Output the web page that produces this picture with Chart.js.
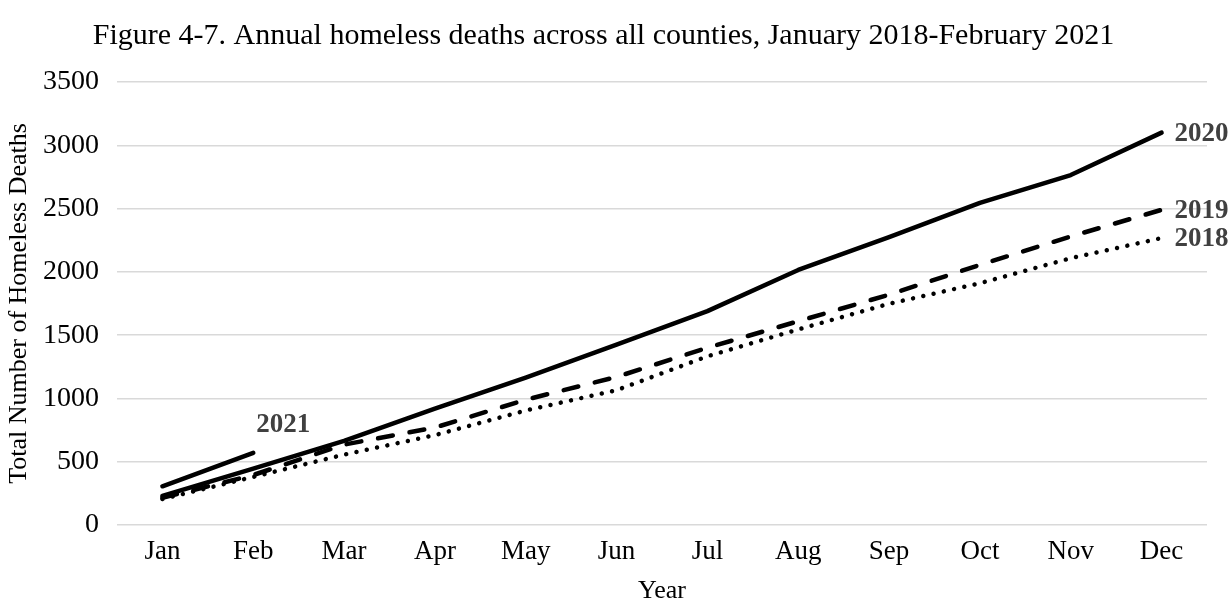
<!DOCTYPE html>
<html>
<head>
<meta charset="utf-8">
<script src="https://cdn.jsdelivr.net/npm/chart.js"></script>
<style>
  html, body { margin: 0; padding: 0; background: #fff; }
  #wrap { width: 1231px; height: 607px; }
</style>
</head>
<body>
<div id="wrap"><canvas id="deathsChart" width="1231" height="607"></canvas></div>
<script>
// Cumulative homeless deaths by month
const months = ['Jan', 'Feb', 'Mar', 'Apr', 'May', 'Jun', 'Jul', 'Aug', 'Sep', 'Oct', 'Nov', 'Dec'];
const deaths2018 = [205, 380, 556, 710, 905, 1065, 1333, 1545, 1748, 1910, 2108, 2267];
const deaths2019 = [215, 395, 635, 770, 990, 1170, 1400, 1610, 1820, 2055, 2280, 2490];
const deaths2020 = [230, 445, 665, 920, 1165, 1425, 1690, 2015, 2275, 2545, 2765, 3100];
const deaths2021 = [306, 570, null, null, null, null, null, null, null, null, null, null];
const yTicks = [0, 500, 1000, 1500, 2000, 2500, 3000, 3500];

const SERIF = "'Liberation Serif', 'Times New Roman', serif";

// Year labels drawn next to the last point of each line
const endLabels = {
    id: 'endLabels',
    afterDatasetsDraw(chart) {
        const ctx = chart.ctx;
        ctx.save();
        ctx.font = 'bold 27px ' + SERIF;
        ctx.fillStyle = '#404040';
        ctx.textBaseline = 'middle';
        chart.data.datasets.forEach((ds, i) => {
            const meta = chart.getDatasetMeta(i);
            let last = -1;
            ds.data.forEach((v, j) => { if (v !== null) last = j; });
            if (last < 0) return;
            const pt = meta.data[last];
            const off = ds.labelOffset || { x: 13, y: 1, align: 'left' };
            ctx.textAlign = off.align;
            ctx.fillText(ds.label, pt.x + off.x, pt.y + off.y);
        });
        ctx.restore();
    }
};

const ctx = document.getElementById('deathsChart').getContext('2d');
new Chart(ctx, {
    type: 'line',
    data: {
        labels: months,
        datasets: [
            {
                label: '2018',
                data: deaths2018,
                borderColor: '#000',
                borderWidth: 4.5,
                borderDash: [0.01, 10.5],
                borderCapStyle: 'round',
                pointRadius: 0,
                tension: 0
            },
            {
                label: '2019',
                data: deaths2019,
                borderColor: '#000',
                borderWidth: 4.5,
                borderDash: [15, 17],
                borderCapStyle: 'round',
                pointRadius: 0,
                tension: 0
            },
            {
                label: '2020',
                data: deaths2020,
                borderColor: '#000',
                borderWidth: 4.5,
                borderCapStyle: 'round',
                borderJoinStyle: 'round',
                pointRadius: 0,
                tension: 0
            },
            {
                label: '2021',
                data: deaths2021,
                borderColor: '#000',
                borderWidth: 4.5,
                borderCapStyle: 'round',
                pointRadius: 0,
                tension: 0,
                spanGaps: false,
                labelOffset: { x: 30, y: -28, align: 'center' }
            }
        ]
    },
    options: {
        responsive: false,
        animation: false,
        layout: { padding: { left: 0, right: 24, top: 0, bottom: 0 } },
        plugins: {
            legend: { display: false },
            tooltip: { enabled: false },
            title: {
                display: true,
                text: 'Figure 4-7. Annual homeless deaths across all counties, January 2018-February 2021',
                color: '#000',
                font: { family: SERIF, size: 30, weight: 'normal' },
                padding: { top: 18, bottom: 28 }
            }
        },
        scales: {
            x: {
                offset: true,
                grid: { display: false },
                border: { display: false },
                ticks: {
                    color: '#000',
                    font: { family: SERIF, size: 27 },
                    padding: 3,
                    maxRotation: 0
                },
                title: {
                    display: true,
                    text: 'Year',
                    color: '#000',
                    font: { family: SERIF, size: 26 },
                    padding: { top: 0, bottom: 0 }
                },
                afterFit(scale) { scale.height = 82; }
            },
            y: {
                min: 0,
                max: 3500,
                afterBuildTicks(scale) { scale.ticks = yTicks.map(v => ({ value: v })); },
                grid: { color: '#d9d9d9', lineWidth: 1.5, drawTicks: false },
                border: { display: false },
                ticks: {
                    color: '#000',
                    font: { family: SERIF, size: 28 },
                    padding: 18,
                    callback: v => String(v)
                },
                title: {
                    display: true,
                    text: 'Total Number of Homeless Deaths',
                    color: '#000',
                    font: { family: SERIF, size: 26 },
                    padding: { top: 4, bottom: 0 }
                },
                afterFit(scale) { scale.width = 117; }
            }
        }
    },
    plugins: [endLabels]
});
</script>
</body>
</html>
